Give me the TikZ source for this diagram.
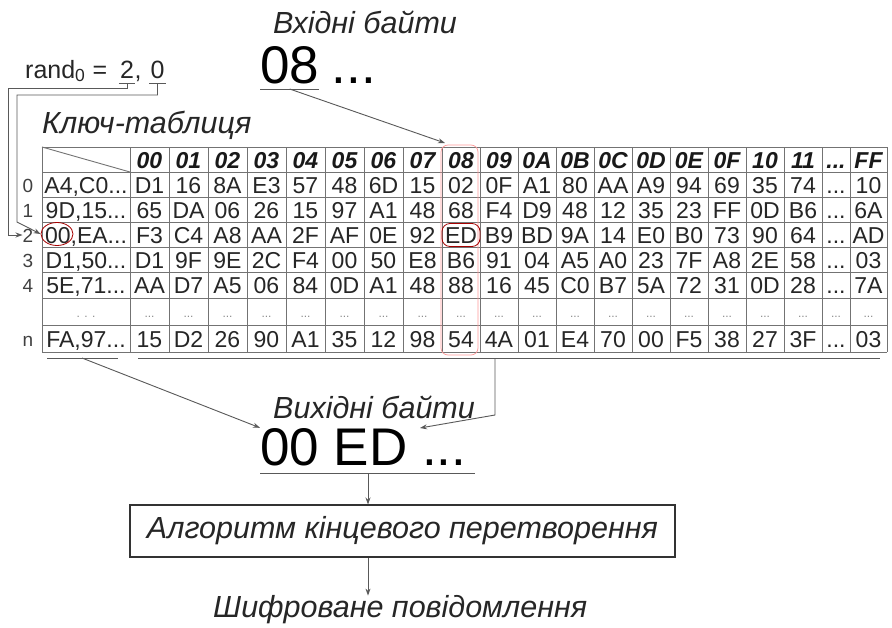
\documentclass[tikz,border=0pt]{standalone}
\usepackage{fontspec}
\setmainfont{Liberation Sans}
\usetikzlibrary{arrows.meta,shapes.geometric}
\def\colx{{149.5,188.5,227.5,266.5,305.5,344.5,383.5,422.5,461,499,537,575,613,651,689,727,765,803,836,868.5}}
\newcommand\ddd{...}
\newcommand\tabrow[5]{%
  \node[#5] (k#1) at (86,#2) {#3};
  \foreach \v [count=\i from 0] in {#4} {
    \pgfmathsetmacro\xx{\colx[\i]}
    \node[#5] (c#1-\i) at (\xx,#2) {\v};
  }%
}
\begin{document}
\begin{tikzpicture}[x=1pt,y=-1pt,
  cell/.style={inner sep=0pt, text height=16.5pt, text depth=0pt, font=\fontsize{23}{23}\selectfont, text=black!85},
  hcell/.style={cell, font=\fontsize{23}{23}\selectfont\bfseries\itshape, text=black!90},
  dcell/.style={inner sep=0pt, text height=9pt, text depth=0pt, font=\fontsize{12}{12}\selectfont, text=black!45},
  lab/.style={inner sep=0pt, text height=14pt, text depth=0pt, font=\fontsize{19}{19}\selectfont, text=black!75},
  grid/.style={draw=black!55, line width=0.9pt},
  conn/.style={draw=black!65, line width=0.9pt},
  arr/.style={conn, -{Stealth[length=7pt,width=5pt]}},
  title/.style={inner sep=0pt, anchor=west, font=\fontsize{30.5}{30.5}\selectfont\itshape, text=black!85},
  big/.style={inner sep=0pt, anchor=base west, font=\fontsize{53}{53}\selectfont, text=black},
  rtext/.style={inner sep=0pt, anchor=base, font=\fontsize{25}{25}\selectfont, text=black!85},
  hl/.style={draw=red!65!black, line width=0.8pt}
]
\useasboundingbox (0,0) rectangle (892,627);
\fill[white] (0,0) rectangle (892,627);

% ---- grid
\foreach \y in {147,172,197,222,247,272,298,325,352}
  \draw[grid] (42,\y) -- (887,\y);
\foreach \x in {42,130,169,208,247,286,325,364,403,442,480,518,556,594,632,670,708,746,784,822,850,887}
  \draw[grid] (\x,147) -- (\x,352);
\draw[grid] (42,147) -- (130,172);

% ---- table contents
\tabrow{h}{160}{}{00,01,02,03,04,05,06,07,08,09,0A,0B,0C,0D,0E,0F,10,11,\ddd,FF}{hcell}
\tabrow{0}{185}{A4,C0...}{D1,16,8A,E3,57,48,6D,15,02,0F,A1,80,AA,A9,94,69,35,74,\ddd,10}{cell}
\tabrow{1}{210}{9D,15...}{65,DA,06,26,15,97,A1,48,68,F4,D9,48,12,35,23,FF,0D,B6,\ddd,6A}{cell}
\tabrow{2}{235}{00,EA...}{F3,C4,A8,AA,2F,AF,0E,92,ED,B9,BD,9A,14,E0,B0,73,90,64,\ddd,AD}{cell}
\tabrow{3}{260}{D1,50...}{D1,9F,9E,2C,F4,00,50,E8,B6,91,04,A5,A0,23,7F,A8,2E,58,\ddd,03}{cell}
\tabrow{4}{285}{5E,71...}{AA,D7,A5,06,84,0D,A1,48,88,16,45,C0,B7,5A,72,31,0D,28,\ddd,7A}{cell}
\tabrow{d}{313}{. . .}{\ddd,\ddd,\ddd,\ddd,\ddd,\ddd,\ddd,\ddd,\ddd,\ddd,\ddd,\ddd,\ddd,\ddd,\ddd,\ddd,\ddd,\ddd,\ddd,\ddd}{dcell}
\tabrow{n}{339}{FA,97...}{15,D2,26,90,A1,35,12,98,54,4A,01,E4,70,00,F5,38,27,3F,\ddd,03}{cell}

% ---- row labels
\node[lab] (l0) at (28,185) {0};
\node[lab] (l1) at (28,210) {1};
\node[lab] (l2) at (28,235) {2};
\node[lab] (l3) at (28,260) {3};
\node[lab] (l4) at (28,285) {4};
\node[lab] (ln) at (28,339) {n};

% ---- highlights
\draw[draw=red!40, line width=0.7pt, rounded corners=7pt] (441,145) rectangle (478,355);
\node[hl, rounded corners=8pt, minimum width=38pt, minimum height=23pt, inner sep=0pt] (edmark) at (461,235) {};
\node[hl, ellipse, minimum width=32pt, minimum height=23pt, inner sep=0pt] (oomark) at (57,234) {};

% ---- titles and texts
\node[title] (intitle) at (273,22) {Вхідні байти};
\node[big] (in08) at (260,83) {08};
\node[big, anchor=base west] (indots) at ([xshift=12pt]in08.base east) {...};
\draw[conn] ([yshift=-6pt]in08.base west) -- ([yshift=-6pt]in08.base east);
\coordinate (u08) at ([yshift=-6pt]in08.base);
\coordinate (col8top) at (445,143);
\draw[arr] (u08) -- (col8top);

\node[rtext, anchor=base west] (randtxt) at (25,78) {rand\textsubscript{0}};
\node[rtext] (req) at (100,78) {=};
\node[rtext] (rtwo) at (127,78) {2};
\node[rtext] (rcomma) at (138,78) {,};
\node[rtext] (rzero) at (157.5,78) {0};
\draw[conn] ([yshift=-5pt,xshift=-1pt]rtwo.base west) -- ([yshift=-5pt,xshift=1pt]rtwo.base east);
\draw[conn] ([yshift=-5pt,xshift=-1pt]rzero.base west) -- ([yshift=-5pt,xshift=1pt]rzero.base east);
\coordinate (u2) at ([yshift=-5pt]rtwo.base);
\coordinate (u0) at ([yshift=-5pt]rzero.base);
\coordinate (bendA) at (8,235);
\coordinate (bendB) at (17,222);
\draw[arr] (u2) -- ++(0,5) -| (bendA) -- (l2.west);
\draw[arr] (u0) -- ++(0,12) -| (bendB) -- (oomark.west);

\node[title] (keytitle) at (42,125) {Ключ-таблиця};

% ---- outputs
\draw[conn] (47,358) -- (118,358);
\draw[conn] (138,358) -- (880,358);
\coordinate (fau) at (82,358);
\coordinate (lu) at (495,358);
\coordinate (lbend) at (495,415);
\coordinate (edtip) at (420,428);

\node[title] (outtitle) at (273,407) {Вихідні байти};
\node[big] (outb) at (260,465) {00 ED ...};
\draw[conn] ([yshift=-8pt]outb.base west) -- ([yshift=-8pt,xshift=8pt]outb.base east);
\coordinate (ou) at (368,473);

\draw[arr] (fau) -- (outb.north west);
\draw[arr] (lu) -- (lbend) -- (edtip);

\node[draw=black!80, line width=1.1pt, minimum width=545pt, minimum height=52pt, inner sep=0pt,
      font=\fontsize{30.5}{30.5}\selectfont\itshape, text=black!85] (algo) at (402.5,531) {Алгоритм кінцевого перетворення};
\node[title] (enc) at (213,610) {Шифроване повідомлення};

\draw[arr] (ou) -- (ou |- algo.north);
\draw[arr] (ou |- algo.south) -- (ou |- enc.north);
\end{tikzpicture}
\end{document}
